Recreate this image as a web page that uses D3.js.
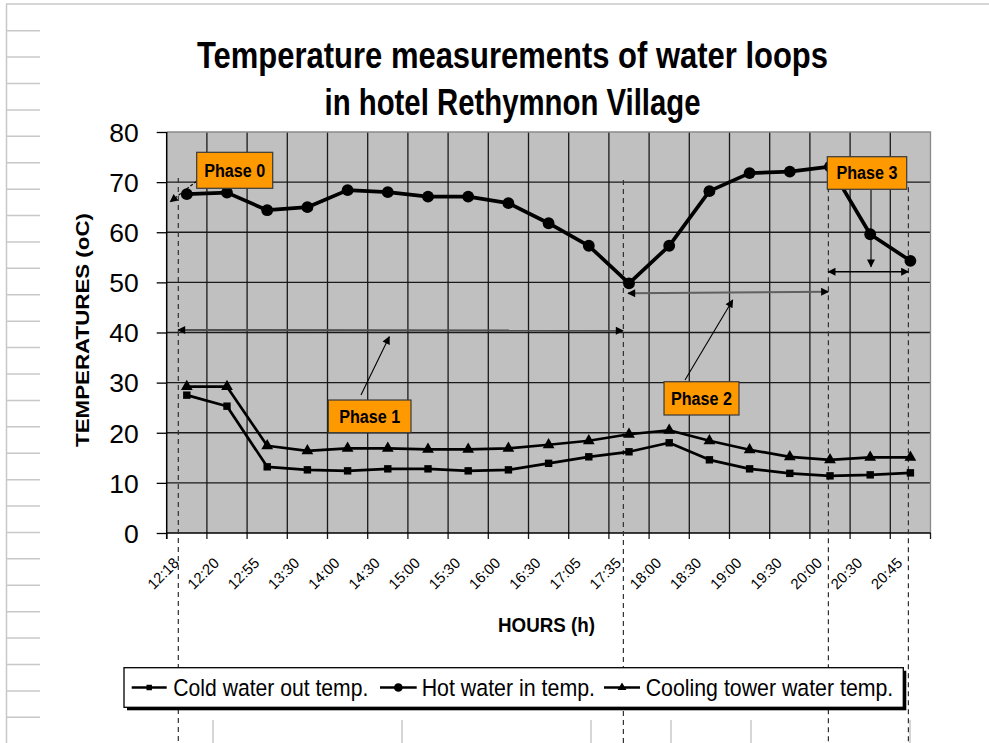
<!DOCTYPE html>
<html>
<head>
<meta charset="utf-8">
<script src="https://cdn.jsdelivr.net/npm/d3@7"></script>
<style>
  html, body { margin: 0; padding: 0; background: #ffffff; }
  svg { display: block; }
  text { font-family: "Liberation Sans", Arial, sans-serif; }
</style>
</head>
<body>
<script>
// ---------------- DATA ----------------
const categories = ["12:18", "12:20", "12:55", "13:30", "14:00", "14:30", "15:00", "15:30", "16:00", "16:30",
                    "17:05", "17:35", "18:00", "18:30", "19:00", "19:30", "20:00", "20:30", "20:45"];
const coldWater = [27.5, 25.3, 13.2, 12.6, 12.4, 12.8, 12.8, 12.4, 12.6, 13.9,
                   15.2, 16.2, 18.0, 14.6, 12.8, 11.9, 11.4, 11.6, 12.0];
const hotWater = [67.6, 67.9, 64.4, 65.0, 68.4, 68.0, 67.1, 67.1, 65.8, 61.8,
                  57.3, 49.8, 57.3, 68.2, 71.8, 72.1, 73.1, 59.6, 54.3];
const coolingTower = [29.2, 29.2, 17.4, 16.4, 16.9, 16.9, 16.7, 16.7, 16.9, 17.6,
                      18.4, 19.7, 20.5, 18.4, 16.6, 15.2, 14.6, 15.1, 15.1];
const yTicks = [0, 10, 20, 30, 40, 50, 60, 70, 80];
const seriesNames = ["Cold water out temp.", "Hot water in temp.", "Cooling tower water temp."];
const titleLines = ["Temperature measurements of water loops", "in hotel Rethymnon Village"];
const yTitle = "TEMPERATURES (oC)";
const xTitle = "HOURS (h)";

// Annotations expressed in chart units (u = category slot position, v = temperature)
const phaseBoxes = [
  { label: "Phase 0", u0: 0.746, u1: 2.637, v0: 75.95, v1: 68.77 },
  { label: "Phase 1", u0: 4.02, u1: 6.077, v0: 26.53, v1: 20.01 },
  { label: "Phase 2", u0: 12.371, u1: 14.236, v0: 30.18, v1: 23.54 },
  { label: "Phase 3", u0: 16.433, u1: 18.408, v0: 75.07, v1: 68.57 }
];
const pointerArrows = [
  { u0: 0.746, v0: 70.2, u1: 0.09, v1: 66.1, dashed: true },
  { u0: 4.833, v0: 27.53, u1: 5.537, v1: 39.16 },
  { u0: 12.893, v0: 30.52, u1: 14.08, v1: 46.48 },
  { u0: 17.52, v0: 68.43, u1: 17.52, v1: 53.13 }
];
const spanArrows = [
  { u0: 0.281, v0: 40.5, u1: 11.351, v1: 40.36, color: "#505050", w: 2.2 },
  { u0: 11.475, v0: 47.82, u1: 16.458, v1: 48.14, color: "#606060", w: 2 },
  { u0: 16.458, v0: 52.13, u1: 18.448, v1: 52.13, color: "#000000", w: 1.4 }
];
const phaseDividers = [
  { u: 0.289, vTop: 70.8 },
  { u: 11.36, vTop: 70.4 },
  { u: 16.46, vTop: 69.0 },
  { u: 18.45, vTop: 69.0 }
];

// ---------------- LAYOUT ----------------
const W = 989, H = 743;
const L = 166.7, R = 930.5, T = 132, B = 533;
const FONT = '"Liberation Sans", Arial, sans-serif';

const svg = d3.select("body").append("svg").attr("width", W).attr("height", H);

const x = d3.scaleBand().domain(categories).range([L, R]).padding(0);
const u = d3.scaleLinear().domain([0, categories.length]).range([L, R]);
const y = d3.scaleLinear().domain([0, 80]).range([B, T]);
const cx = c => x(c) + x.bandwidth() / 2;

// ---------- page decoration (spreadsheet background) ----------
const deco = svg.append("g").attr("stroke", "#c8c8c8").attr("stroke-width", 1.5);
deco.append("line").attr("x1", 6).attr("x2", W).attr("y1", 4).attr("y2", 4);
deco.append("line").attr("x1", 6.5).attr("x2", 6.5).attr("y1", 4).attr("y2", H);
d3.range(27).forEach(i => {
  const yy = 30.7 + i * (717.3 - 30.7) / 26;
  deco.append("line").attr("x1", 7).attr("x2", 40).attr("y1", yy).attr("y2", yy);
});
[213, 402, 591, 671, 751, 910].forEach(xx => {
  deco.append("line").attr("x1", xx).attr("x2", xx).attr("y1", 720).attr("y2", H);
});

// ---------- markers ----------
const defs = svg.append("defs");
function arrowMarker(id, color) {
  defs.append("marker").attr("id", id)
    .attr("viewBox", "0 0 10 10").attr("refX", 9).attr("refY", 5)
    .attr("markerWidth", 10).attr("markerHeight", 8)
    .attr("markerUnits", "userSpaceOnUse")
    .attr("orient", "auto-start-reverse")
    .append("path").attr("d", "M0,0 L10,5 L0,10 Z").attr("fill", color);
}
arrowMarker("ahBlack", "#000");

// ---------- plot area ----------
svg.append("rect").attr("x", L).attr("y", T).attr("width", R - L).attr("height", B - T)
  .attr("fill", "#c0c0c0");

// horizontal gridlines
svg.append("g").selectAll("line").data(yTicks.filter(t => t > 0 && t < 80)).join("line")
  .attr("x1", L).attr("x2", R).attr("y1", d => y(d)).attr("y2", d => y(d))
  .attr("stroke", "#1a1a1a").attr("stroke-width", 1.3);
// vertical gridlines at category boundaries
svg.append("g").selectAll("line").data(categories.slice(1)).join("line")
  .attr("x1", d => x(d)).attr("x2", d => x(d)).attr("y1", T).attr("y2", B + 6)
  .attr("stroke", "#1a1a1a").attr("stroke-width", 1.3);
// plot border top/right
svg.append("path").attr("d", `M${L},${T}H${R}V${B}`).attr("fill", "none")
  .attr("stroke", "#8a8a8a").attr("stroke-width", 1.3);
svg.append("line").attr("x1", R).attr("x2", R).attr("y1", B).attr("y2", B + 6)
  .attr("stroke", "#1a1a1a").attr("stroke-width", 1.3);

// y axis
const yAxis = svg.append("g").attr("transform", `translate(${L},0)`)
  .call(d3.axisLeft(y).tickValues(yTicks).tickSize(10).tickPadding(18).tickFormat(d3.format("d")));
yAxis.select(".domain").attr("stroke", "#000").attr("stroke-width", 1.5).attr("d", `M0,${T}V${B + 6}`);
yAxis.selectAll(".tick line").attr("stroke", "#000").attr("stroke-width", 1.3);
yAxis.selectAll(".tick text").attr("font-family", FONT).attr("font-size", 26.5).attr("fill", "#000").attr("dy", "0.35em");

// x axis baseline
svg.append("line").attr("x1", L).attr("x2", R).attr("y1", B).attr("y2", B)
  .attr("stroke", "#000").attr("stroke-width", 1.5);
svg.append("line").attr("x1", L).attr("x2", L).attr("y1", B).attr("y2", B + 6)
  .attr("stroke", "#000").attr("stroke-width", 1.3);

// x tick labels (rotated)
svg.append("g").selectAll("text").data(categories).join("text")
  .attr("transform", d => `translate(${cx(d) - 7},${B + 31}) rotate(-45)`)
  .attr("text-anchor", "end")
  .attr("font-size", 15).attr("fill", "#000")
  .attr("textLength", 37).attr("lengthAdjust", "spacingAndGlyphs")
  .text(d => d);

// axis titles
svg.append("text").attr("x", 546.5).attr("y", 632.3).attr("text-anchor", "middle")
  .attr("font-size", 21).attr("font-weight", "bold")
  .attr("textLength", 97).attr("lengthAdjust", "spacingAndGlyphs").text(xTitle);
svg.append("text").attr("transform", "translate(88.5,330) rotate(-90)").attr("text-anchor", "middle")
  .attr("font-size", 19).attr("font-weight", "bold")
  .attr("textLength", 234).attr("lengthAdjust", "spacingAndGlyphs").text(yTitle);

// title
const titleY = [68.3, 115];
const titleW = [631, 376];
titleLines.forEach((t, i) => {
  svg.append("text").attr("x", 512.5).attr("y", titleY[i]).attr("text-anchor", "middle")
    .attr("font-size", 37).attr("font-weight", "bold")
    .attr("textLength", titleW[i]).attr("lengthAdjust", "spacingAndGlyphs").text(t);
});

// ---------- annotations: dividers ----------
svg.append("g").selectAll("line").data(phaseDividers).join("line")
  .attr("x1", d => u(d.u)).attr("x2", d => u(d.u)).attr("y1", d => y(d.vTop)).attr("y2", H)
  .attr("stroke", "#303030").attr("stroke-width", 1.2).attr("stroke-dasharray", "5,4");

// span arrows
spanArrows.forEach(a => {
  svg.append("line")
    .attr("x1", u(a.u0)).attr("y1", y(a.v0)).attr("x2", u(a.u1)).attr("y2", y(a.v1))
    .attr("stroke", a.color).attr("stroke-width", a.w)
    .attr("marker-start", "url(#ahBlack)").attr("marker-end", "url(#ahBlack)");
});

// ---------- series ----------
const series = [
  { name: seriesNames[0], values: coldWater, sym: d3.symbolSquare, size: 55, width: 2.7 },
  { name: seriesNames[1], values: hotWater, sym: d3.symbolCircle, size: 110, width: 3.7 },
  { name: seriesNames[2], values: coolingTower, sym: d3.symbolTriangle, size: 60, width: 2.7 }
];
const lineGen = d3.line().x((d, i) => cx(categories[i])).y(d => y(d));
series.forEach(s => {
  svg.append("path").datum(s.values).attr("d", lineGen)
    .attr("fill", "none").attr("stroke", "#000").attr("stroke-width", s.width)
    .attr("stroke-linejoin", "round");
  svg.append("g").selectAll("path").data(s.values).join("path")
    .attr("transform", (d, i) => `translate(${cx(categories[i])},${y(d)})`)
    .attr("d", d3.symbol().type(s.sym).size(s.size)).attr("fill", "#000");
});

// pointer arrows
pointerArrows.forEach(a => {
  svg.append("line")
    .attr("x1", u(a.u0)).attr("y1", y(a.v0)).attr("x2", u(a.u1)).attr("y2", y(a.v1))
    .attr("stroke", "#000").attr("stroke-width", 1.1)
    .attr("stroke-dasharray", a.dashed ? "3,2" : null)
    .attr("marker-end", "url(#ahBlack)");
});

// phase boxes
const pb = svg.append("g").selectAll("g").data(phaseBoxes).join("g");
pb.append("rect")
  .attr("x", d => u(d.u0)).attr("y", d => y(d.v0))
  .attr("width", d => u(d.u1) - u(d.u0)).attr("height", d => y(d.v1) - y(d.v0))
  .attr("fill", "#ff9900").attr("stroke", "#3a3a3a").attr("stroke-width", 1.2);
pb.append("text")
  .attr("x", d => (u(d.u0) + u(d.u1)) / 2)
  .attr("y", d => (y(d.v0) + y(d.v1)) / 2 + 6.3)
  .attr("text-anchor", "middle").attr("font-size", 17.5).attr("font-weight", "bold")
  .attr("textLength", 61).attr("lengthAdjust", "spacingAndGlyphs")
  .text(d => d.label);

// ---------- legend ----------
const lg = svg.append("g");
lg.append("rect").attr("x", 127).attr("y", 670.7).attr("width", 779.3).attr("height", 39.6).attr("fill", "#000");
lg.append("rect").attr("x", 124).attr("y", 667.7).attr("width", 779.3).attr("height", 39.6)
  .attr("fill", "#fff").attr("stroke", "#000").attr("stroke-width", 1.3);
const legendItems = [
  { s: series[0], lx0: 131.7, lx1: 166.7, tx: 173.3, tw: 195, ms: 30 },
  { s: series[1], lx0: 380, lx1: 416.7, tx: 421.7, tw: 173.3, ms: 60 },
  { s: series[2], lx0: 604, lx1: 640, tx: 645.7, tw: 247.6, ms: 34 }
];
legendItems.forEach(it => {
  lg.append("line").attr("x1", it.lx0).attr("x2", it.lx1).attr("y1", 687.5).attr("y2", 687.5)
    .attr("stroke", "#000").attr("stroke-width", 2.6);
  lg.append("path").attr("transform", `translate(${(it.lx0 + it.lx1) / 2},687.5)`)
    .attr("d", d3.symbol().type(it.s.sym).size(it.ms)).attr("fill", "#000");
  lg.append("text").attr("x", it.tx).attr("y", 696).attr("font-size", 24.5)
    .attr("textLength", it.tw).attr("lengthAdjust", "spacingAndGlyphs").text(it.s.name);
});
</script>
</body>
</html>
